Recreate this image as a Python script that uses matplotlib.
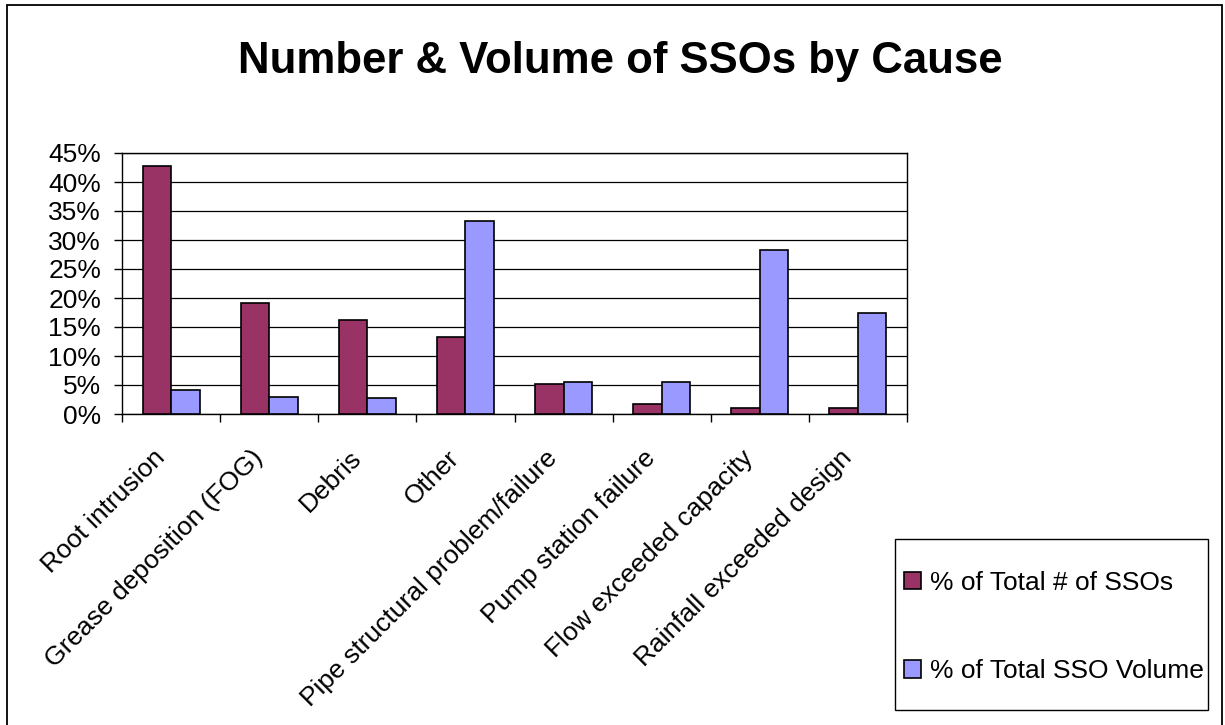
import numpy as np
import matplotlib
matplotlib.use('Agg')
import matplotlib.pyplot as plt
import matplotlib.transforms as mtransforms
from matplotlib.patches import Rectangle

plt.rcParams['font.family'] = ['Liberation Sans', 'DejaVu Sans']

# Datos (porcentajes)
causas = ['Root intrusion', 'Grease deposition (FOG)', 'Debris', 'Other',
          'Pipe structural problem/failure', 'Pump station failure',
          'Flow exceeded capacity', 'Rainfall exceeded design']
pct_numero = [42.8, 19.2, 16.2, 13.2, 5.2, 1.7, 1.1, 1.1]
pct_volumen = [4.1, 3.0, 2.8, 33.2, 5.5, 5.5, 28.3, 17.5]
y_ticks = [0, 5, 10, 15, 20, 25, 30, 35, 40, 45]

W, H = 1225, 725
fig = plt.figure(figsize=(W / 100, H / 100), dpi=100)

# marco exterior
fig.patches.append(Rectangle((7 / W, -0.02), (1222 - 7) / W, 1 - 5 / H + 0.02,
                             transform=fig.transFigure, fill=False,
                             edgecolor='black', linewidth=1.3))

ax = fig.add_axes([122 / W, 1 - 414 / H, 785 / W, 261 / H])

x = np.arange(len(causas))
ancho = 0.29
b1 = ax.bar(x - ancho / 2, pct_numero, ancho, color='#993366',
            edgecolor='black', linewidth=1.2, label='% of Total # of SSOs', zorder=3)
b2 = ax.bar(x + ancho / 2, pct_volumen, ancho, color='#9999FF',
            edgecolor='black', linewidth=1.2, label='% of Total SSO Volume', zorder=3)

ax.set_xlim(-0.5, len(causas) - 0.5)
ax.set_ylim(0, 45)
ax.set_yticks(y_ticks)
ax.set_yticklabels([f'{v}%' for v in y_ticks])
ax.yaxis.grid(True, color='black', linewidth=0.9, zorder=0)
ax.tick_params(axis='y', direction='out', length=6, width=1, pad=9, labelsize=19)

# ticks en los limites de categoria, etiquetas al centro
ax.set_xticks(x)
ax.set_xticklabels(causas, rotation=45, ha='right', va='center',
                   rotation_mode='anchor', fontsize=19)
ax.set_xticks(np.arange(-0.5, len(causas)), minor=True)
ax.tick_params(axis='x', which='major', length=0, pad=29)
ax.tick_params(axis='x', which='minor', direction='out', length=6, width=1)

# desplazar etiquetas un poco a la izquierda
desplaz = mtransforms.ScaledTranslation(-10 / 100, 0, fig.dpi_scale_trans)
for lbl in ax.get_xticklabels():
    lbl.set_transform(lbl.get_transform() + desplaz)

for s in ax.spines.values():
    s.set_color('black')
    s.set_linewidth(1.0)

fig.text(620 / W, 1 - 61 / H, 'Number & Volume of SSOs by Cause',
         ha='center', va='center', fontsize=31.5, fontweight='bold')

# caja de la leyenda
fig.patches.append(Rectangle((895 / W, 1 - 710 / H), (1208 - 895) / W, 171 / H,
                             transform=fig.transFigure, fill=False,
                             edgecolor='black', linewidth=1.0))
leg = fig.legend(handles=[b1, b2], loc='center left',
                 bbox_to_anchor=(904 / W, 1 - 627 / H), borderaxespad=0,
                 fontsize=19, frameon=False, labelspacing=2.45, borderpad=0,
                 handlelength=0.65, handleheight=0.65, handletextpad=0.35)

fig.savefig('out.png', dpi=100)
